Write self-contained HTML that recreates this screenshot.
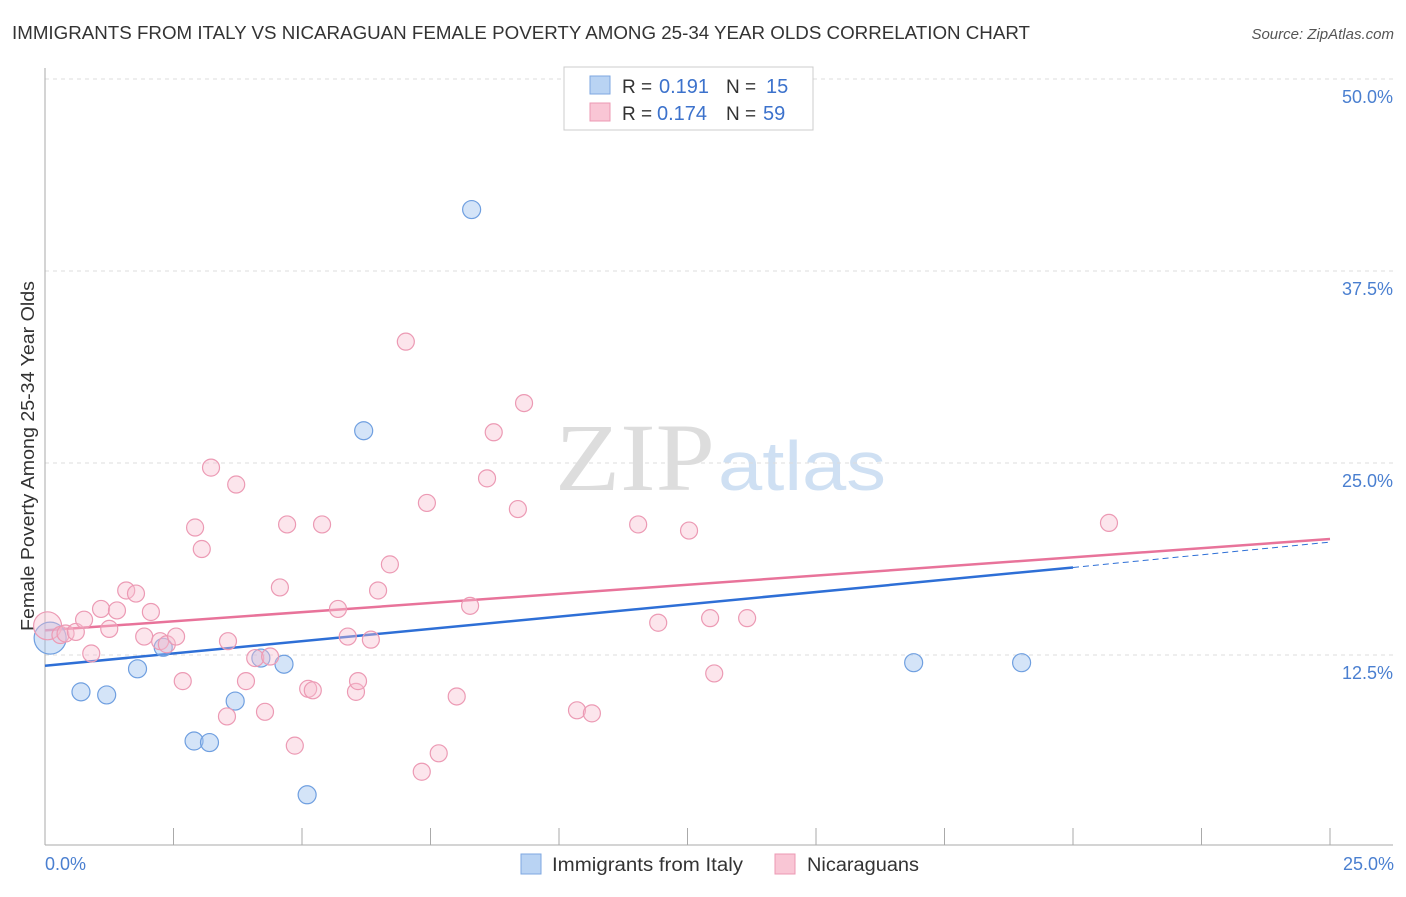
<!DOCTYPE html>
<html><head><meta charset="utf-8"><style>
body{margin:0;background:#fff;font-family:"Liberation Sans",sans-serif;}
</style></head><body>
<svg width="1406" height="892" xmlns="http://www.w3.org/2000/svg" font-family="Liberation Sans, sans-serif">
<text x="12" y="39" font-size="18" fill="#333" textLength="1018" lengthAdjust="spacingAndGlyphs">IMMIGRANTS FROM ITALY VS NICARAGUAN FEMALE POVERTY AMONG 25-34 YEAR OLDS CORRELATION CHART</text>
<text x="1394" y="39" font-size="15" fill="#555" font-style="italic" text-anchor="end">Source: ZipAtlas.com</text>
<text x="555" y="490" font-size="96" fill="#ddd" textLength="160" lengthAdjust="spacingAndGlyphs" font-family="Liberation Serif, serif">ZIP</text>
<text x="718" y="490" font-size="70" fill="#cfe0f3" textLength="168" lengthAdjust="spacingAndGlyphs">atlas</text>
<g id="grid"></g>
<line x1="45" y1="68" x2="45" y2="845" stroke="#aaa"/>
<line x1="45" y1="845" x2="1393" y2="845" stroke="#aaa"/>
<text transform="translate(34,456) rotate(-90)" font-size="18" fill="#333" text-anchor="middle" textLength="350" lengthAdjust="spacingAndGlyphs">Female Poverty Among 25-34 Year Olds</text>
<text x="45" y="870" font-size="18" fill="#4a7fd0">0.0%</text>
<text x="1394" y="870" font-size="18" fill="#4a7fd0" text-anchor="end">25.0%</text>
<g id="lines"></g>
<g id="points"></g>
<g>
<rect x="564" y="67" width="249" height="63" fill="#fff" stroke="#ccc"/>
<rect x="590" y="76" width="20" height="18" fill="#b9d3f3" stroke="#7ea7e0"/>
<rect x="590" y="103" width="20" height="18" fill="#f9c6d5" stroke="#ec98b3"/>
<text x="622" y="93" font-size="19" fill="#333">R =</text>
<text x="659" y="93" font-size="20" fill="#3c72cc">0.191</text>
<text x="726" y="93" font-size="19" fill="#333">N =</text>
<text x="766" y="93" font-size="20" fill="#3c72cc">15</text>
<text x="622" y="120" font-size="19" fill="#333">R =</text>
<text x="657" y="120" font-size="20" fill="#3c72cc">0.174</text>
<text x="726" y="120" font-size="19" fill="#333">N =</text>
<text x="763" y="120" font-size="20" fill="#3c72cc">59</text>
</g>
<g>
<rect x="521" y="854" width="20" height="20" fill="#b9d3f3" stroke="#7ea7e0"/>
<text x="552" y="871" font-size="19" fill="#333" textLength="191" lengthAdjust="spacingAndGlyphs">Immigrants from Italy</text>
<rect x="775" y="854" width="20" height="20" fill="#f9c6d5" stroke="#ec98b3"/>
<text x="807" y="871" font-size="19" fill="#333" textLength="112" lengthAdjust="spacingAndGlyphs">Nicaraguans</text>
</g>
</svg>
<script>
const yTicks=[12.5,25,37.5,50];
const yTickLabels=["12.5%","25.0%","37.5%","50.0%"];
const xTicks=[0,2.5,5,7.5,10,12.5,15,17.5,20,22.5,25];
const italyX=[0.1,0.7,1.2,1.8,2.3,2.9,3.2,3.7,4.2,4.65,5.1,6.2,8.3,16.9,19.0];
const italyY=[13.6,10.1,9.9,11.6,13.0,6.9,6.8,9.5,12.3,11.9,3.4,27.1,41.5,12.0,12.0];
const italySize=[16,9,9,9,9,9,9,9,9,9,9,9,9,9,9];
const nicX=[0.05,0.3,0.4,0.6,0.76,0.9,1.09,1.25,1.4,1.58,1.77,1.93,2.06,2.24,2.37,2.55,2.68,2.92,3.05,3.23,3.54,3.56,3.72,3.91,4.09,4.28,4.38,4.57,4.71,4.86,5.12,5.21,5.39,5.7,5.89,6.05,6.09,6.34,6.48,6.71,7.02,7.33,7.43,7.66,8.01,8.27,8.6,8.73,9.2,9.32,10.35,10.64,11.54,11.93,12.53,12.94,13.02,13.66,20.7];
const nicY=[14.4,13.8,13.9,14.0,14.8,12.6,15.5,14.2,15.4,16.7,16.5,13.7,15.3,13.4,13.2,13.7,10.8,20.8,19.4,24.7,8.5,13.4,23.6,10.8,12.3,8.8,12.4,16.9,21.0,6.6,10.3,10.2,21.0,15.5,13.7,10.1,10.8,13.5,16.7,18.4,32.9,4.9,22.4,6.1,9.8,15.7,24.0,27.0,22.0,28.9,8.9,8.7,21.0,14.6,20.6,14.9,11.3,14.9,21.1];
const italyLine=[[0,11.8],[20,18.2]];
const italyDash=[[20,18.2],[25,19.85]];
const nicLine=[[0,14.1],[25,20.05]];
const NS="http://www.w3.org/2000/svg";
const xs=v=>45+v*51.4, ys=v=>847-v*15.36;
function mk(t,a,p){const e=document.createElementNS(NS,t);for(const k in a)e.setAttribute(k,a[k]);p.appendChild(e);return e;}
const grid=document.getElementById('grid');
yTicks.forEach((t,i)=>{
 const l=mk('line',{x1:45,x2:1393,y1:ys(t),y2:ys(t),stroke:'#ddd','stroke-dasharray':'4,4'},grid);
 
 
 const tx=mk('text',{x:1393,y:ys(t)+24,'font-size':18,fill:'#4a7fd0','text-anchor':'end'},grid);
 tx.textContent=yTickLabels[i];
 
 
});
xTicks.forEach(t=>{
 const l=mk('line',{x1:xs(t),x2:xs(t),y1:828,y2:845,stroke:'#aaa'},grid);
 
 
});
const pts=document.getElementById('points');
italyX.forEach((x,i)=>{
 const c=mk('circle',{cx:xs(x),cy:ys(italyY[i]),r:italySize[i],fill:'rgba(160,196,240,0.45)',stroke:'#6f9fe0','stroke-width':1.2},pts);
 
 
});
nicX.forEach((x,i)=>{
 const c=mk('circle',{cx:xs(x),cy:ys(nicY[i]),r:i==0?14:8.5,fill:'rgba(248,190,208,0.4)',stroke:'#ec9ab4','stroke-width':1.2},pts);
 
 
});
const ln=document.getElementById('lines');
const a=mk('line',{x1:xs(nicLine[0][0]),y1:ys(nicLine[0][1]),x2:xs(nicLine[1][0]),y2:ys(nicLine[1][1]),stroke:'#e8739a','stroke-width':2.5},ln);


const b=mk('line',{x1:xs(italyLine[0][0]),y1:ys(italyLine[0][1]),x2:xs(italyLine[1][0]),y2:ys(italyLine[1][1]),stroke:'#2e6fd6','stroke-width':2.5},ln);


const d=mk('line',{x1:xs(italyDash[0][0]),y1:ys(italyDash[0][1]),x2:xs(italyDash[1][0]),y2:ys(italyDash[1][1]),stroke:'#2e6fd6','stroke-width':1,'stroke-dasharray':'6,4'},ln);


</script>
</body></html>
